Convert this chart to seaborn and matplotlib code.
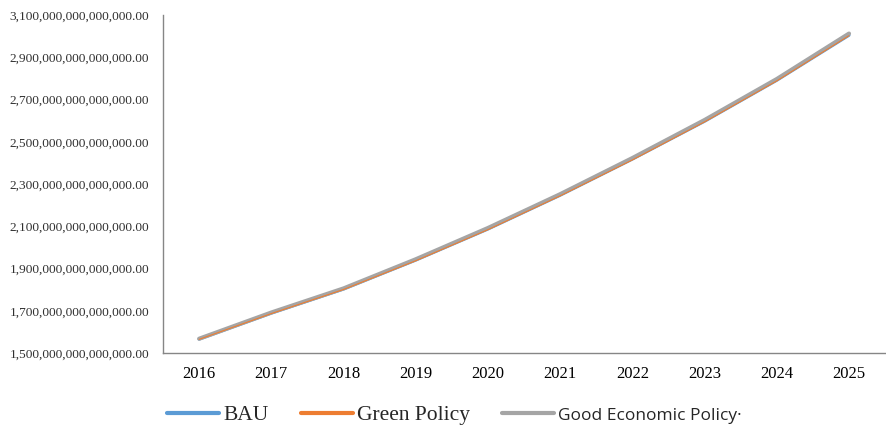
import numpy as np
import pandas as pd
import matplotlib
matplotlib.use("Agg")
import matplotlib.pyplot as plt
from matplotlib.ticker import FuncFormatter, FixedLocator
import seaborn as sns

sns.set_style("white")
plt.rcParams['font.family'] = ['Liberation Serif', 'DejaVu Serif']

years = [2016, 2017, 2018, 2019, 2020, 2021, 2022, 2023, 2024, 2025]
bau = [1.566e15, 1.689e15, 1.803e15, 1.940e15, 2.087e15, 2.247e15, 2.418e15, 2.597e15, 2.791e15, 3.004e15]
green = [1.565e15, 1.687e15, 1.801e15, 1.937e15, 2.084e15, 2.244e15, 2.414e15, 2.594e15, 2.788e15, 3.002e15]
good_econ = [1.568e15, 1.692e15, 1.806e15, 1.944e15, 2.092e15, 2.252e15, 2.423e15, 2.603e15, 2.797e15, 3.012e15]
y_ticks = [1.5e15, 1.7e15, 1.9e15, 2.1e15, 2.3e15, 2.5e15, 2.7e15, 2.9e15, 3.1e15]

df = pd.DataFrame({
    "year": [str(y) for y in years] * 3,
    "value": bau + green + good_econ,
    "series": ["BAU"] * 10 + ["Green Policy"] * 10 + ["Good Economic Policy"] * 10,
})

fig = plt.figure(figsize=(8.86, 4.28), dpi=100)
ax = fig.add_axes([0.184, 0.175, 0.815, 0.79])

colors = {"BAU": "#5B9BD5", "Green Policy": "#ED7D31", "Good Economic Policy": "#A5A5A5"}
widths = {"BAU": 2.2, "Green Policy": 0.8, "Good Economic Policy": 3.0}

# draw order: blue underneath, thick grey, thin orange on top
for name in ["BAU", "Good Economic Policy", "Green Policy"]:
    sub = df[df.series == name]
    sns.lineplot(data=sub, x="year", y="value", ax=ax, color=colors[name],
                 linewidth=widths[name], sort=False, legend=False)

ax.set_xlim(-0.5, 9.5)
ax.set_ylim(1.5e15, 3.1e15)
ax.yaxis.set_major_locator(FixedLocator(y_ticks))
ax.yaxis.set_major_formatter(FuncFormatter(lambda v, p: f"{v:,.2f}"))
ax.set_xlabel("")
ax.set_ylabel("")
ax.tick_params(axis='y', labelsize=9.6, length=0, pad=10, colors="#303030")
ax.tick_params(axis='x', labelsize=12, length=0, pad=9, colors="#000000")
for s in ["top", "right"]:
    ax.spines[s].set_visible(False)
for s in ["left", "bottom"]:
    ax.spines[s].set_color("#868686")
    ax.spines[s].set_linewidth(1.0)

handles = [plt.Line2D([], [], color=colors[n], linewidth=3) for n in ["BAU", "Green Policy", "Good Economic Policy"]]
leg = fig.legend(handles, ["BAU", "Green Policy", "Good Economic Policy\u00b7"],
                 loc="center", bbox_to_anchor=(0.513, 0.03), ncol=3, frameon=False,
                 fontsize=15.5, handlelength=2.4, handletextpad=0.2, columnspacing=1.5)
leg.get_texts()[2].set_fontfamily(['Open Sans', 'DejaVu Sans'])
leg.get_texts()[2].set_fontsize(12.5)

fig.savefig("out.png", dpi=100)
